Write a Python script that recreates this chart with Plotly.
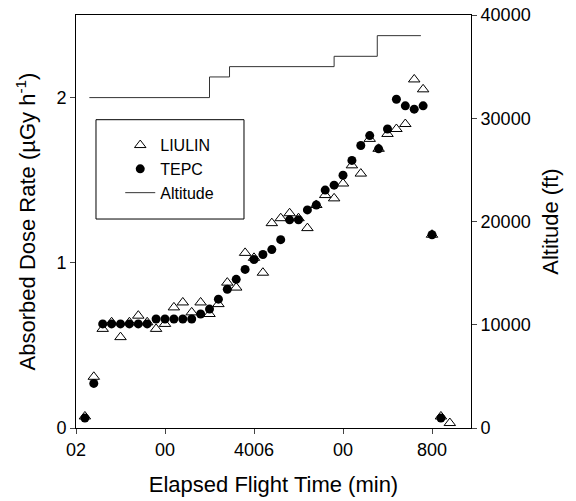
import plotly.graph_objects as go

# Elapsed flight time (min) - sample positions every 20 min
tepc_t = [20, 40, 60, 80, 100, 120, 140, 160, 180, 200, 220, 240, 260, 280, 300,
          320, 340, 360, 380, 400, 420, 440, 460, 480, 500, 520, 540, 560, 580,
          600, 620, 640, 660, 680, 700, 720, 740, 760, 780, 800, 820]
tepc_dose = [0.06, 0.27, 0.63, 0.63, 0.63, 0.63, 0.63, 0.63, 0.66, 0.66, 0.66,
             0.66, 0.66, 0.69, 0.72, 0.78, 0.84, 0.90, 0.96, 1.02, 1.05, 1.08,
             1.14, 1.26, 1.26, 1.32, 1.35, 1.44, 1.47, 1.53, 1.62, 1.71, 1.77,
             1.69, 1.81, 1.99, 1.95, 1.93, 1.95, 1.17, 0.06]

liulin_t = [20, 40, 60, 80, 100, 120, 140, 160, 180, 200, 220, 240, 260, 280,
            300, 320, 340, 360, 380, 400, 420, 440, 460, 480, 500, 520, 540,
            560, 580, 600, 620, 640, 660, 680, 700, 720, 740, 760, 780, 800,
            820, 840]
liulin_dose = [0.07, 0.31, 0.60, 0.64, 0.55, 0.64, 0.68, 0.64, 0.60, 0.63,
               0.73, 0.76, 0.70, 0.76, 0.69, 0.75, 0.88, 0.85, 1.06, 1.03,
               0.94, 1.24, 1.27, 1.30, 1.27, 1.21, 1.35, 1.41, 1.39, 1.48,
               1.59, 1.54, 1.75, 1.69, 1.78, 1.81, 1.84, 2.11, 2.05, 1.17,
               0.07, 0.03]

alt_t = [30, 300, 345, 580, 677, 775]
alt_ft = [32000, 34000, 35000, 36000, 38000, 38000]

tick_vals = [0, 200, 400, 600, 800]
tick_text = ["02", "00", "4006", "00", "800"]

FONT = "Liberation Sans, Arial, sans-serif"
OFF = 8  # page body margin shifts the figure

fig = go.Figure()

fig.add_trace(go.Scatter(
    x=liulin_t, y=liulin_dose, mode="markers", name="LIULIN",
    marker=dict(symbol="triangle-up-open", size=10, color="black",
                line=dict(width=1, color="black")),
))
fig.add_trace(go.Scatter(
    x=tepc_t, y=tepc_dose, mode="markers", name="TEPC",
    marker=dict(symbol="circle", size=9, color="black"),
))
fig.add_trace(go.Scatter(
    x=alt_t, y=alt_ft, mode="lines", name="Altitude", yaxis="y2",
    line=dict(color="#333333", width=1, shape="hv"),
))

# legend frame
fig.add_shape(type="rect", xref="paper", yref="paper",
              x0=0.0506, x1=0.4253, y0=0.506, y1=0.7465,
              line=dict(color="black", width=1), fillcolor="white", layer="below")

fig.update_layout(
    width=576, height=501,
    margin=dict(l=76 - OFF, r=105 + OFF, t=15 - OFF, b=73 + OFF),
    paper_bgcolor="white", plot_bgcolor="white",
    font=dict(family=FONT, size=18, color="black"),
    showlegend=True,
    legend=dict(x=0.112, y=0.726, xanchor="left", yanchor="top",
                bgcolor="rgba(0,0,0,0)", borderwidth=0,
                font=dict(size=16)),
    xaxis=dict(range=[0, 887.6], tickvals=tick_vals, ticktext=tick_text,
               ticks="outside", ticklen=5, showline=True, linecolor="black",
               mirror=True, showgrid=False, zeroline=False, automargin=False,
               title=dict(text="Elapsed Flight Time (min)", standoff=18)),
    yaxis=dict(range=[0, 2.5], tickvals=[0, 1, 2], ticks="outside", ticklen=5,
               showline=True, linecolor="black", showgrid=False, zeroline=False,
               automargin=False,
               title=dict(text="Absorbed Dose Rate (µGy h<sup>-1</sup>)", standoff=14)),
    yaxis2=dict(range=[0, 40000], overlaying="y", side="right",
                tickvals=[0, 10000, 20000, 30000, 40000], tickformat="d",
                ticklabeloverflow="allow",
                ticks="outside", ticklen=5, showline=True, linecolor="black",
                showgrid=False, zeroline=False, automargin=False,
                title=dict(text="Altitude (ft)", standoff=12)),
)

fig.write_html("out.html")
